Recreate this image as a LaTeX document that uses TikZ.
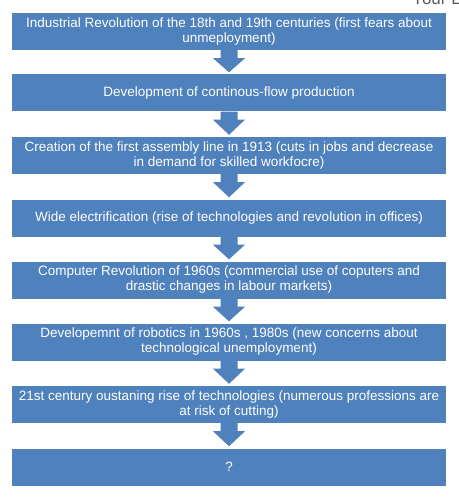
\documentclass[tikz,border=0pt]{standalone}
\usepackage{fontspec}
\setmainfont{Liberation Sans}
\usetikzlibrary{calc}
\definecolor{boxblue}{RGB}{79,129,189}
\definecolor{topgray}{RGB}{90,90,90}
\tikzset{
  stagebox/.style={fill=boxblue, text=white, minimum width=434bp, minimum height=37bp,
    inner sep=0pt, align=center, font=\fontsize{13.5bp}{15bp}\selectfont},
  flowarrow/.style={fill=boxblue}
}
\newcommand{\blockarrow}[2]{%
  \fill[flowarrow] ($(#1.south)+(-8.5bp,0)$) -- ($(#1.south)+(8.5bp,0)$)
    -- ($(#1.south)+(8.5bp,-8bp)$) -- ($(#1.south)+(16bp,-8bp)$)
    -- ($(#2.north)+(0,2bp)$)
    -- ($(#1.south)+(-16bp,-8bp)$) -- ($(#1.south)+(-8.5bp,-8bp)$) -- cycle;}
\begin{document}
\begin{tikzpicture}[x=1bp,y=-1bp]
\useasboundingbox (0,0) rectangle (459,497);
\clip (0,0) rectangle (459,497);
\fill[white] (0,0) rectangle (459,497);
\node[anchor=base west, text=topgray, font=\fontsize{17bp}{20bp}\selectfont, inner sep=0pt] (hdr) at (412,5) {Your L};
\node[stagebox] (s1) at (229,31.5) {Industrial Revolution of the 18th and 19th centuries (first fears about\\unmeployment)};
\node[stagebox] (s2) at (229,93) {Development of continous-flow production};
\node[stagebox] (s3) at (229,155.5) {Creation of the first assembly line in 1913 (cuts in jobs and decrease\\in demand for skilled workfocre)};
\node[stagebox] (s4) at (229,218) {Wide electrification (rise of technologies and revolution in offices)};
\node[stagebox] (s5) at (229,280) {Computer Revolution of 1960s (commercial use of coputers and\\drastic changes in labour markets)};
\node[stagebox] (s6) at (229,342) {Developemnt of robotics in 1960s , 1980s (new concerns about\\technological unemployment)};
\node[stagebox] (s7) at (229,404.5) {21st century oustaning rise of technologies (numerous professions are\\at risk of cutting)};
\node[stagebox] (s8) at (229,467) {?};
\blockarrow{s1}{s2}
\blockarrow{s2}{s3}
\blockarrow{s3}{s4}
\blockarrow{s4}{s5}
\blockarrow{s5}{s6}
\blockarrow{s6}{s7}
\blockarrow{s7}{s8}
\end{tikzpicture}
\end{document}
